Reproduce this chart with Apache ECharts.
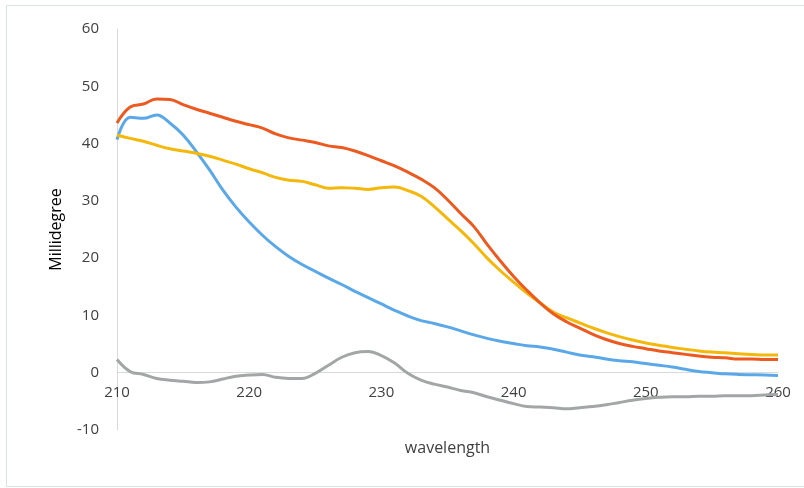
<!DOCTYPE html>
<html>
<head>
<meta charset="utf-8">
<script src="https://cdn.jsdelivr.net/npm/echarts@6/dist/echarts.min.js"></script>
<style>html,body{margin:0;padding:0;background:#fff}#c{width:804px;height:488px}</style>
</head>
<body>
<div id="c"></div>
<script>
const wavelengths = [210,211,212,213,214,215,216,217,218,219,220,221,222,223,224,225,226,227,228,229,230,231,232,233,234,235,236,237,238,239,240,241,242,243,244,245,246,247,248,249,250,251,252,253,254,255,256,257,258,259,260];
const seriesOrange = [43.6,46.4,46.9,47.8,47.7,46.8,46.0,45.3,44.6,43.9,43.3,42.7,41.7,41.0,40.6,40.2,39.6,39.3,38.7,37.9,37.0,36.1,35.0,33.8,32.3,30.2,27.8,25.5,22.4,19.5,16.8,14.4,12.2,10.3,8.9,7.8,6.7,5.8,5.1,4.6,4.2,3.8,3.5,3.2,2.9,2.7,2.6,2.4,2.4,2.3,2.3];
const seriesYellow = [41.5,40.9,40.4,39.7,39.1,38.7,38.3,37.8,37.1,36.4,35.6,34.9,34.1,33.6,33.4,32.8,32.2,32.3,32.2,32.0,32.3,32.4,31.8,30.8,29.0,26.9,24.8,22.5,20.0,17.8,15.8,13.9,12.2,10.6,9.6,8.7,7.8,7.0,6.3,5.7,5.2,4.8,4.4,4.1,3.8,3.6,3.5,3.3,3.2,3.1,3.1];
const seriesBlue = [40.7,44.6,44.4,45.0,43.6,41.5,38.6,35.4,31.9,28.9,26.3,24.0,22.0,20.3,18.9,17.7,16.5,15.4,14.2,13.1,12.0,10.9,9.9,9.1,8.6,8.0,7.3,6.6,6.0,5.5,5.1,4.7,4.5,4.1,3.6,3.1,2.8,2.4,2.1,1.9,1.6,1.3,1.0,0.6,0.2,0.0,-0.2,-0.3,-0.35,-0.4,-0.5];
const seriesGray = [2.3,0.2,-0.3,-1.0,-1.3,-1.5,-1.7,-1.6,-1.1,-0.6,-0.4,-0.3,-0.8,-1.0,-1.0,-0.1,1.3,2.7,3.5,3.7,3.0,1.7,-0.1,-1.3,-2.0,-2.5,-3.1,-3.5,-4.2,-4.8,-5.4,-5.9,-6.0,-6.1,-6.3,-6.1,-5.9,-5.6,-5.2,-4.8,-4.5,-4.3,-4.2,-4.2,-4.1,-4.1,-4.0,-4.0,-4.0,-3.9,-3.8];

const xTitle = 'wavelength';
const yTitle = 'Millidegree';
const yMin = -10, yMax = 60;

function pairs(vals){ return wavelengths.map((w,i)=>[w, vals[i]]); }
function line(name, vals, color, z){
  return {name, type:'line', data:pairs(vals), smooth:0.4, showSymbol:false, symbol:'none', z:z,
    lineStyle:{color, width:3}, itemStyle:{color}};
}

const gridTop = 29, gridBottom = 58, H = 488;
const plotH = H - gridTop - gridBottom;
const zeroOffset = -plotH * (0 - yMin) / (yMax - yMin);

const chart = echarts.init(document.getElementById('c'), null, {renderer:'canvas'});
chart.setOption({
  animation:false,
  backgroundColor:'#ffffff',
  graphic:[{type:'rect', shape:{x:6.5, y:5.5, width:810, height:481}, style:{fill:'none', stroke:'#d9e2e2', lineWidth:1}, silent:true}],
  grid:{left:117, right:26, top:gridTop, bottom:gridBottom, containLabel:false, outerBoundsMode:'none'},
  xAxis:{type:'value', min:210, max:260, interval:10, offset:zeroOffset,
    name:xTitle, nameLocation:'middle', nameGap:68,
    nameTextStyle:{fontFamily:'Open Sans', fontSize:16, color:'#404040'},
    axisLine:{onZero:false, lineStyle:{color:'#d9d9d9', width:1}},
    axisTick:{show:false},
    axisLabel:{fontFamily:'Open Sans', fontSize:15, color:'#404040', margin:13},
    splitLine:{show:false}},
  yAxis:{type:'value', min:yMin, max:yMax, interval:10,
    name:yTitle, nameLocation:'middle', nameGap:53, nameRotate:90,
    nameTextStyle:{fontFamily:'Open Sans', fontSize:16, color:'#000000'},
    axisLine:{show:true, onZero:false, lineStyle:{color:'#d9d9d9', width:1}},
    axisTick:{show:false},
    axisLabel:{fontFamily:'Open Sans', fontSize:15, color:'#404040', margin:18},
    splitLine:{show:false}},
  series:[
    line('Gray', seriesGray, '#a3a6a6', 2),
    line('Blue', seriesBlue, '#5aa8e8', 3),
    line('Yellow', seriesYellow, '#f4b80c', 4),
    line('Orange', seriesOrange, '#ec5a1f', 5)
  ]
});
</script>
</body>
</html>
